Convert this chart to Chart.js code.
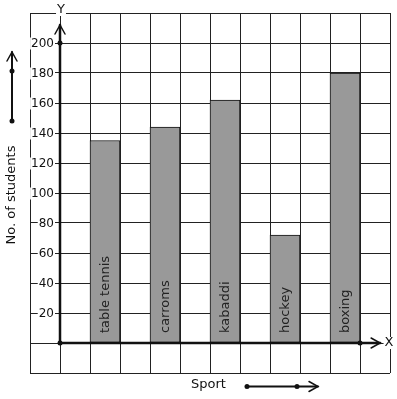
<!DOCTYPE html>
<html>
<head>
<meta charset="utf-8">
<script src="https://cdn.jsdelivr.net/npm/chart.js@4.4.1/dist/chart.umd.min.js"></script>
<style>
  html, body { margin: 0; padding: 0; background: #fff; }
  canvas { display: block; }
</style>
</head>
<body>
<canvas id="chart" width="397" height="399"></canvas>
<script>
const sports = ["table tennis", "carroms", "kabaddi", "hockey", "boxing"];
const students = [135, 144, 162, 72, 180];
const yTicks = [20, 40, 60, 80, 100, 120, 140, 160, 180, 200];
const yTitle = "No. of students";
const xTitle = "Sport";

const FONT = "'DejaVu Sans', sans-serif";
const INK = "#111";

// bars sit in every other grid cell, starting at the second cell right of the Y axis
const points = students.map((v, i) => ({ x: 2 * i + 1.5, y: v }));

function chevron(ctx, x, y, dir) {
  // open arrow head, tip at (x,y)
  ctx.beginPath();
  if (dir === "up") {
    ctx.moveTo(x - 5, y + 9); ctx.lineTo(x, y); ctx.lineTo(x + 5, y + 9);
  } else {
    ctx.moveTo(x - 9, y - 5); ctx.lineTo(x, y); ctx.lineTo(x - 9, y + 5);
  }
  ctx.stroke();
}

function dot(ctx, x, y) {
  ctx.beginPath();
  ctx.arc(x, y, 2.5, 0, Math.PI * 2);
  ctx.fill();
}

function boxedText(ctx, text, x, y, align) {
  ctx.textAlign = align;
  const w = ctx.measureText(text).width;
  const left = align === "right" ? x - w : align === "center" ? x - w / 2 : x;
  ctx.fillStyle = "#fff";
  ctx.fillRect(left - 1, y - 6, w + 2, 12);
  ctx.fillStyle = INK;
  ctx.fillText(text, x, y);
}

const decorations = {
  id: "decorations",
  afterDatasetsDraw(chart) {
    const { ctx, scales: { x, y } } = chart;
    const ox = x.getPixelForValue(0);
    const oy = y.getPixelForValue(0);
    ctx.save();
    ctx.strokeStyle = INK;
    ctx.fillStyle = INK;
    ctx.lineCap = "round";

    // axes
    ctx.lineWidth = 2.5;
    const yTop = y.getPixelForValue(212);
    const xEnd = x.getPixelForValue(10.67);
    ctx.beginPath();
    ctx.moveTo(ox, oy); ctx.lineTo(ox, yTop);
    ctx.moveTo(ox, oy); ctx.lineTo(xEnd, oy);
    ctx.stroke();
    ctx.lineWidth = 1.5;
    chevron(ctx, ox, yTop, "up");
    chevron(ctx, xEnd, oy, "right");
    dot(ctx, ox, oy);
    dot(ctx, ox, y.getPixelForValue(200));
    dot(ctx, x.getPixelForValue(10), oy);

    // tick labels on white boxes
    ctx.font = "12px " + FONT;
    ctx.textBaseline = "middle";
    yTicks.forEach(t => boxedText(ctx, String(t), ox - 6, y.getPixelForValue(t) + 0.5, "right"));

    ctx.font = "13px " + FONT;
    boxedText(ctx, "Y", ox + 1, chart.chartArea.top - 3, "center");
    boxedText(ctx, "X", chart.chartArea.right - 1, oy, "center");

    // labels inside bars
    const meta = chart.getDatasetMeta(0);
    ctx.font = "13px " + FONT;
    ctx.fillStyle = "#222";
    meta.data.forEach((bar, i) => {
      ctx.save();
      ctx.translate(bar.x + 1, oy - 10);
      ctx.rotate(-Math.PI / 2);
      ctx.textAlign = "left";
      ctx.textBaseline = "middle";
      ctx.fillText(sports[i], 0, 0);
      ctx.restore();
    });

    // axis titles with arrows
    ctx.fillStyle = INK;
    ctx.save();
    ctx.translate(12, 195);
    ctx.rotate(-Math.PI / 2);
    ctx.textAlign = "center";
    ctx.textBaseline = "middle";
    ctx.fillText(yTitle, 0, 0);
    ctx.restore();

    ctx.textAlign = "left";
    ctx.textBaseline = "middle";
    ctx.fillText(xTitle, 191, 385);

    ctx.lineWidth = 2;
    ctx.beginPath();
    ctx.moveTo(12, 121); ctx.lineTo(12, 52);
    ctx.moveTo(247, 386.5); ctx.lineTo(318, 386.5);
    ctx.stroke();
    ctx.lineWidth = 1.5;
    chevron(ctx, 12, 52, "up");
    chevron(ctx, 318, 386.5, "right");
    dot(ctx, 12, 71);
    dot(ctx, 12, 121);
    dot(ctx, 247, 386.5);
    dot(ctx, 297, 386.5);

    ctx.restore();
  }
};

new Chart(document.getElementById("chart"), {
  type: "bar",
  data: {
    datasets: [{
      data: points,
      backgroundColor: "#999999",
      borderColor: INK,
      borderWidth: 1,
      borderSkipped: false,
      barThickness: 30
    }]
  },
  options: {
    responsive: false,
    animation: false,
    events: [],
    layout: { padding: { left: 30, right: 7, top: 13, bottom: 26 } },
    plugins: { legend: { display: false }, tooltip: { enabled: false } },
    scales: {
      x: {
        type: "linear",
        min: -1,
        max: 11,
        offset: false,
        ticks: { display: false, stepSize: 1 },
        grid: { color: "#222", lineWidth: 1, drawTicks: false, offset: false },
        border: { display: false }
      },
      y: {
        min: -20,
        max: 220,
        ticks: { display: false, stepSize: 20 },
        grid: { color: "#222", lineWidth: 1, drawTicks: false },
        border: { display: false }
      }
    }
  },
  plugins: [decorations]
});
</script>
</body>
</html>
